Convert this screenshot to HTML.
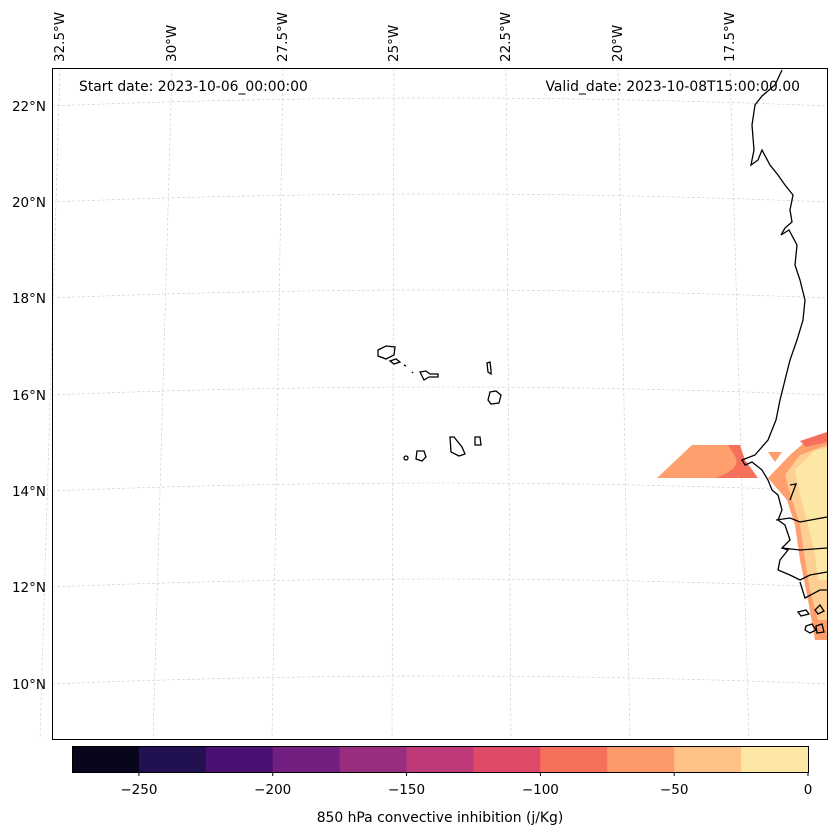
<!DOCTYPE html>
<html><head><meta charset="utf-8"><style>
body{margin:0;background:#fff;}
svg{display:block;font-family:"DejaVu Sans","Liberation Sans",sans-serif;}
</style></head><body>
<svg id="fig" width="837" height="836" viewBox="0 0 837 836">
<g id="grid"></g>
<g id="fill">
 <polygon points="657,478 692,445 740,445 743,478" fill="#fe9f6d"/>
 <path d="M728,445 L740,445 L745,460 L758,478 L715,478 Q740,470 736,458 Z" fill="#f7705c"/>
 <polygon points="768,452 782,452 775,462" fill="#fe9f6d"/>
 <polygon points="768,478 790,455 805,442 827,438 827,640 815,640 808,600 800,560 795,525 787,500" fill="#fe9f6d"/>
 <polygon points="800,441 827,432 827,442 806,447" fill="#f7705c"/>
 <polygon points="785,475 800,455 827,445 827,620 818,620 810,590 805,560 800,525 792,500" fill="#fecf92"/>
 <polygon points="795,470 815,450 827,448 827,580 818,580 815,555 808,525 800,495" fill="#fde7a5"/>
</g>
<g id="coast" fill="none" stroke="#000" stroke-width="1.3">
 <polyline points="782,70 775,85 762,96 755,105 752,125 754,150 751,165 758,160 762,150 770,165 778,175 785,185 793,195 790,210 792,222 785,228 781,235 789,230 797,245 795,265 800,280 805,300 803,320 797,340 790,360 785,380 780,400 776,420 768,440 755,455 742,460 745,465 752,462 762,470 768,480 772,490 778,495 782,510 778,520 785,525 790,540 782,548 788,550 780,560 778,570 790,575 800,580 810,575 827,572"/>
 <polyline points="776,520 790,518 800,522 827,517"/>
 <polyline points="790,485 796,484 790,500"/>
 <polyline points="782,548 800,550 827,548"/>
 <polyline points="800,582 805,598 820,590 827,590"/>
 <path d="M798,612 l8,-2 l3,4 l-8,2 Z M815,610 l5,-5 l4,6 l-6,3 Z M806,626 l6,-2 l4,6 l-6,3 l-5,-3 Z M816,626 l6,-2 l2,8 l-7,1 Z"/>
 <path d="M378,350 l8,-4 l9,1 l-1,8 l-8,4 l-8,-3 Z"/>
 <path d="M390,361 l6,-2 l4,3 l-6,2 Z"/>
 <path d="M404,365 l2,1 M412,372 l1,1"/>
 <path d="M420,372 l6,-1 l4,3 l8,0 l0,3 l-9,0 l-5,3 Z"/>
 <path d="M487,363 l3,-1 l1,8 l0,4 l-3,-2 Z"/>
 <path d="M490,392 l6,-1 l5,4 l-2,8 l-8,1 l-3,-4 Z"/>
 <path d="M450,437 l4,0 l8,10 l3,7 l-6,2 l-8,-4 Z"/>
 <path d="M475,437 l5,0 l1,8 l-6,0 Z"/>
 <path d="M417,451 l7,0 l2,6 l-4,4 l-6,-2 Z"/>
 <circle cx="406" cy="458" r="2"/>
</g>
<rect x="52.5" y="68.5" width="775" height="671" fill="none" stroke="#000" stroke-width="1"/>
<g id="lonlab" font-size="13.5" fill="#000"></g>
<g id="latlab" font-size="13.5" fill="#000" text-anchor="end"></g>
<text x="79" y="91" font-size="13.9">Start date: 2023-10-06_00:00:00</text>
<text x="800" y="91" font-size="13.9" text-anchor="end">Valid_date: 2023-10-08T15:00:00.00</text>
<g id="cbar"></g>
<text x="440" y="822" font-size="13.9" text-anchor="middle">850 hPa convective inhibition (j/Kg)</text>
</svg>
<script>
const NS='http://www.w3.org/2000/svg';
const levels=[-275,-250,-225,-200,-175,-150,-125,-100,-75,-50,-25,0];
const colors=['#07061c','#221150','#4c0f73','#721f81','#982d80','#be3977','#df4a68','#f6705c','#fe9a6a','#fec286','#fde7a5'];
const tickVals=[-250,-200,-150,-100,-50,0];
const tickLabels=['\u2212250','\u2212200','\u2212150','\u2212100','\u221250','0'];
const lonLabels=['32.5°W','30°W','27.5°W','25°W','22.5°W','20°W','17.5°W'];
const lonTop=[60,172,283,394,506,618,730];
const lonBot=[40,153,272,392,511,630,749];
const latLabels=['22°N','20°N','18°N','16°N','14°N','12°N','10°N'];
const latY=[106,202,298,395,491,587,684];
function mk(t,a,p){const e=document.createElementNS(NS,t);for(const k in a)e.setAttribute(k,a[k]);p.appendChild(e);return e;}
const cx=x=>72+(x-(-275))/275*736;
const cb=document.getElementById('cbar');
for(let i=0;i<colors.length;i++){
 const r=mk('rect',{x:cx(levels[i]),y:746,width:cx(levels[i+1])-cx(levels[i])+0.5,height:26,fill:colors[i]},cb);
 
 
}
const fr=mk('rect',{x:72.5,y:746.5,width:736,height:26,fill:'none',stroke:'#000','stroke-width':1},cb);

tickVals.forEach((v,i)=>{
 const l=mk('line',{x1:cx(v),x2:cx(v),y1:772,y2:776,stroke:'#000'},cb);
 
 const t=mk('text',{x:cx(v),y:794,'font-size':13.5,'text-anchor':'middle'},cb);t.textContent=tickLabels[i];
 
});
const g=document.getElementById('grid');
lonTop.forEach((x,i)=>{
 const l=mk('line',{x1:x,y1:68,x2:lonBot[i],y2:739,stroke:'#ccc','stroke-width':0.6,'stroke-dasharray':'3,2'},g);
 
 const t=mk('text',{transform:`translate(${x+4},62) rotate(-90)`},document.getElementById('lonlab'));t.textContent=lonLabels[i];
 
});
latY.forEach((y,i)=>{
 const p=mk('path',{d:`M52,${y} Q440,${y-16} 827,${y}`,fill:'none',stroke:'#ccc','stroke-width':0.6,'stroke-dasharray':'3,2'},g);
 
 const t=mk('text',{x:46,y:y+5},document.getElementById('latlab'));t.textContent=latLabels[i];
 
});
</script>
</body></html>
